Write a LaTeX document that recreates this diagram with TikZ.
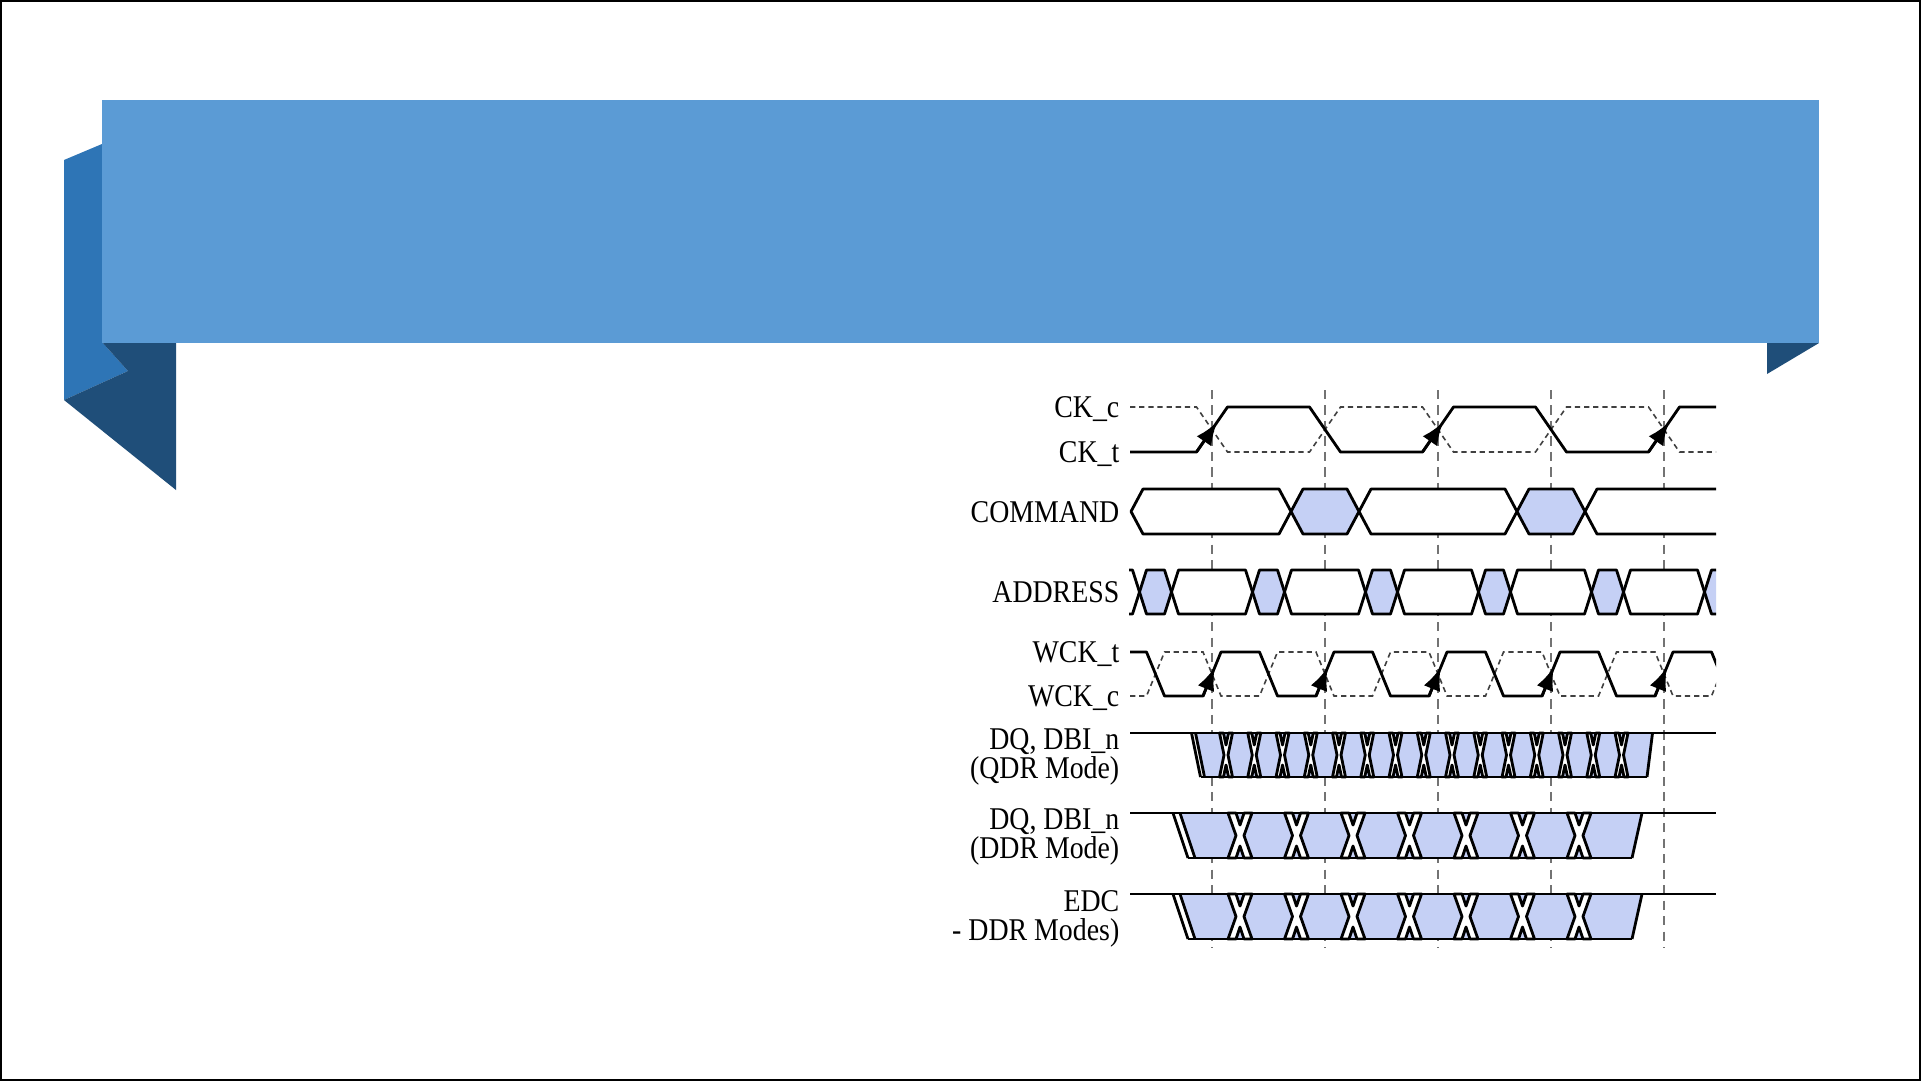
\documentclass[tikz,border=0pt]{standalone}
\usepackage{fontspec}
\newfontfamily\sigfont[FakeStretch=0.88]{Liberation Serif}
\usetikzlibrary{arrows.meta}
\definecolor{ribbonmain}{HTML}{5B9BD5}
\definecolor{ribbonmid}{HTML}{2E75B6}
\definecolor{ribbondark}{HTML}{1F4E79}
\definecolor{busblue}{RGB}{197,208,245}
% bus segment: left, right, top, bottom, slant, fill
\newcommand{\busseg}[6]{%
  \filldraw[sigline,fill=#6] (#1,{(#3+#4)/2}) -- (#1+#5,#3) -- (#2-#5,#3)
    -- (#2,{(#3+#4)/2}) -- (#2-#5,#4) -- (#1+#5,#4) -- cycle;}
% skewed data crossing: centre, top, bottom, slant, skew, notch
\newcommand{\skewx}[6]{%
  \filldraw[sigline,fill=white] (#1-#5/2-#4,#2) -- (#1+#5/2-#4,#2) -- (#1,#2+#6)
    -- (#1-#5/2+#4,#2) -- (#1+#5/2+#4,#2) -- (#1+#5/2,{(#2+#3)/2})
    -- (#1+#5/2+#4,#3) -- (#1-#5/2+#4,#3) -- (#1,#3-#6)
    -- (#1+#5/2-#4,#3) -- (#1-#5/2-#4,#3) -- (#1-#5/2,{(#2+#3)/2}) -- cycle;}
\tikzset{
  sigline/.style={black,line width=0.8pt,line join=round},
  sigdash/.style={black!75,line width=0.45pt,dash pattern=on 1.5pt off 1.1pt},
  gridline/.style={black!55,line width=0.45pt,dash pattern=on 2.6pt off 1.8pt},
  lbl/.style={font=\sigfont\fontsize{9pt}{8.4pt}\selectfont,inner sep=0pt,align=right},
  edgetip/.style={sigline,-{Latex[length=6.5pt,width=5pt]}}
}
\begin{document}
\begin{tikzpicture}[x=0.01cm,y=-0.01cm]
  \useasboundingbox (0,0) rectangle (1921,1081);
  \fill[white] (0,0) rectangle (1921,1081);
  \draw[black,line width=0.6pt] (1,1) rectangle (1920,1080);
  % ribbon
  \fill[ribbonmid] (64,160) -- (102,144) -- (102,342) -- (128,371) -- (64,400) -- cycle;
  \fill[ribbondark] (102,342) -- (176,342) -- (176,490) -- (64,400) -- (128,371) -- cycle;
  \fill[ribbonmain] (102,100) rectangle (1819,343);
  \fill[ribbondark] (1767,343) -- (1819,343) -- (1767,374) -- cycle;
  % clock edges
  \foreach \x in {1212,1325,1438,1551,1664}
    \draw[gridline] (\x,390) -- (\x,948);
  \begin{scope}
    \clip (1129,380) rectangle (1716,960);
    % CK
    \draw[sigdash] (1130,407) foreach \x in {1212,1438,1664}
      { -- (\x-15.5,407) -- (\x+15.5,452) -- (\x+97.5,452) -- (\x+128.5,407) };
    \draw[sigline] (1130,452) foreach \x in {1212,1438,1664}
      { -- (\x-15.5,452) -- (\x+15.5,407) -- (\x+97.5,407) -- (\x+128.5,452) };
    \foreach \x in {1212,1438,1664}
      \draw[edgetip] (\x-15.5,452) -- (\x+5,422.3);
    % COMMAND
    \busseg{1131}{1291}{489}{534}{12}{white}
    \busseg{1291}{1359}{489}{534}{12}{busblue}
    \busseg{1359}{1517}{489}{534}{12}{white}
    \busseg{1517}{1585}{489}{534}{12}{busblue}
    \busseg{1585}{1800}{489}{534}{12}{white}
    % ADDRESS
    \busseg{1050}{1139.5}{570}{614}{7}{white}
    \foreach \c in {1155.5,1268.5,1381.5,1494.5,1607.5}
      \busseg{\c+16}{\c+97}{570}{614}{7}{white};
    \foreach \c in {1155.5,1268.5,1381.5,1494.5,1607.5,1720.5}
      \busseg{\c-16}{\c+16}{570}{614}{7}{busblue};
    % WCK
    \draw[sigdash] (1130,696) foreach \x in {1212,1325,1438,1551,1664}
      { -- (\x-65.5,696) -- (\x-47.5,652) -- (\x-9,652) -- (\x+9,696) } -- (1711.5,696) -- (1729.5,652);
    \draw[sigline] (1130,652) foreach \x in {1212,1325,1438,1551,1664}
      { -- (\x-65.5,652) -- (\x-47.5,696) -- (\x-9,696) -- (\x+9,652) } -- (1711.5,652) -- (1729.5,696);
    \foreach \x in {1212,1325,1438,1551,1664}
      \draw[edgetip] (\x-9,696) -- (\x+2.7,667.4);
    % DQ, QDR
    \fill[busblue] (1195.5,733) -- (1652.5,733) -- (1647,777) -- (1204.5,777) -- cycle;
    \draw[sigline] (1130,733) -- (1716,733);
    \draw[sigline] (1200.5,777) -- (1647,777);
    \draw[sigline] (1191.5,733) -- (1200.5,777) (1195.5,733) -- (1204.5,777)
      (1652.5,733) -- (1647,777);
    \foreach \k in {0,...,14} {
      \pgfmathsetmacro\xc{1226+28.25*\k}
      \skewx{\xc}{733}{777}{4.5}{4}{12}
    }
    % DQ, DDR and EDC
    \foreach \rt/\rb in {813/858,894/939} {
      \fill[busblue] (1180,\rt) -- (1642,\rt) -- (1632,\rb) -- (1195,\rb) -- cycle;
      \draw[sigline] (1130,\rt) -- (1716,\rt);
      \draw[sigline] (1188,\rb) -- (1632,\rb);
      \draw[sigline] (1173,\rt) -- (1188,\rb) (1180,\rt) -- (1195,\rb)
        (1642,\rt) -- (1632,\rb);
      \foreach \k in {0,...,6} {
        \pgfmathsetmacro\xc{1240+56.5*\k}
        \skewx{\xc}{\rt}{\rb}{8}{8}{12}
      }
    }
  \end{scope}
  % labels
  \node[lbl,anchor=base east] (lblckc) at (1120,417) {CK\_c};
  \node[lbl,anchor=base east] (lblckt) at (1120,462) {CK\_t};
  \node[lbl,anchor=base east] (lblcmd) at (1120,522) {COMMAND};
  \node[lbl,anchor=base east] (lbladdr) at (1120,602) {ADDRESS};
  \node[lbl,anchor=base east] (lblwckt) at (1120,662) {WCK\_t};
  \node[lbl,anchor=base east] (lblwckc) at (1120,706) {WCK\_c};
  \node[lbl,anchor=east] (lblqdr) at (1120,757) {DQ, DBI\_n\\(QDR Mode)};
  \node[lbl,anchor=east] (lblddr) at (1120,837) {DQ, DBI\_n\\(DDR Mode)};
  \node[lbl,anchor=east] (lbledc) at (1120,919) {EDC\\- DDR Modes)};
\end{tikzpicture}
\end{document}
